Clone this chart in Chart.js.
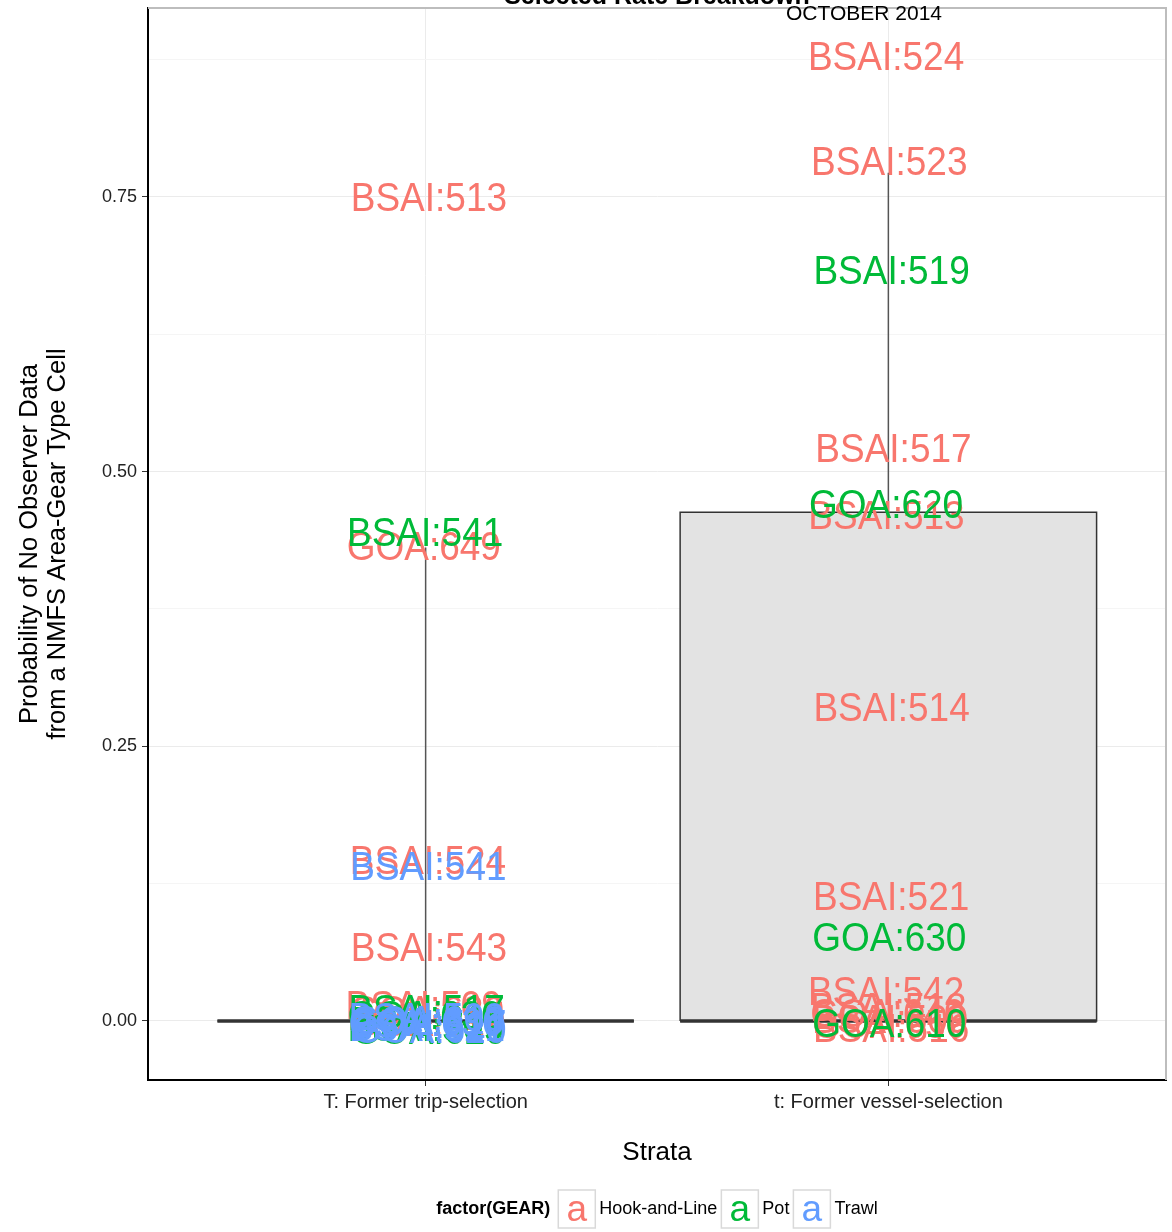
<!DOCTYPE html>
<html>
<head>
<meta charset="utf-8">
<title>Selected Rate Breakdown</title>
<script src="https://cdn.jsdelivr.net/npm/chart.js@4.4.1/dist/chart.umd.min.js"></script>
<style>
    body { margin: 0; background: #ffffff; }
    canvas { display: block; }
</style>
</head>
<body>
<canvas id="myChart" width="1172" height="1232"></canvas>
<script>

// =======================================
// DATA
// =======================================

const strata = ["T: Former trip-selection", "t: Former vessel-selection"];
const stratumPos = [1, 2];

// boxplot stats per stratum
const boxLow = [0, 0];
const boxMedian = [0, 0];
const boxHigh = [0, 0.463];
const whiskerLow = [0, 0];
const whiskerHigh = [0.431, 0.772];

const yTicks = [0, 0.25, 0.5, 0.75];
const yMinorTicks = [0.125, 0.375, 0.625, 0.875];

const gearNames = ["Hook-and-Line", "Pot", "Trawl"];
const gearColors = ["#F8766D", "#00BA38", "#619CFF"];

// Hook-and-Line labels
const hookLabels = [
    "BSAI:513", "GOA:649", "BSAI:524", "BSAI:543",
    "BSAI:509", "GOA:630", "BSAI:517", "GOA:610",
    "BSAI:524", "BSAI:523", "BSAI:517", "BSAI:513", "BSAI:514", "BSAI:521", "BSAI:542",
    "BSAI:518", "GOA:640", "BSAI:509", "GOA:650", "BSAI:516"
];
const hookX = [
    1.007, 0.996, 1.005, 1.007,
    0.996, 1.003, 1.000, 1.006,
    1.995, 2.002, 2.011, 1.996, 2.007, 2.006, 1.995,
    2.000, 1.998, 2.004, 2.002, 2.006
];
const hookY = [
    0.749, 0.431, 0.1456, 0.0664,
    0.0135, 0.009, 0.004, -0.002,
    0.877, 0.782, 0.5205, 0.4595, 0.2848, 0.1128, 0.0264,
    0.012, 0.006, 0.001, -0.004, -0.007
];

// Pot labels
const potLabels = [
    "BSAI:541", "BSAI:517", "GOA:630", "GOA:610", "BSAI:509", "GOA:620",
    "BSAI:519", "GOA:620", "GOA:630", "GOA:610"
];
const potX = [
    0.999, 1.002, 0.998, 1.004, 1.000, 1.006,
    2.007, 1.995, 2.002, 2.002
];
const potY = [
    0.444, 0.010, 0.005, 0.000, -0.006, -0.009,
    0.683, 0.470, 0.0755, -0.0027
];

// Trawl labels
const trawlLabels = [
    "BSAI:541", "BSAI:509", "GOA:610", "GOA:630", "BSAI:517", "BSAI:521", "GOA:620"
];
const trawlX = [
    1.006, 1.002, 1.005, 1.000, 1.006, 1.003, 1.008
];
const trawlY = [
    0.140, 0.003, 0.000, -0.002, -0.004, -0.006, -0.008
];

// =======================================
// STYLE
// =======================================

const FONT = '"Liberation Sans", Arial, Helvetica, sans-serif';
const BOX_HALF = 0.45;

Chart.defaults.font.family = FONT;

// =======================================
// DATASETS
// =======================================

function textSet(labels, xs, ys, color){
    return {
        data: xs.map((x, i) => ({x: x, y: ys[i]})),
        texts: labels,
        textColor: color,
        showLine: false,
        pointRadius: 0,
        pointHoverRadius: 0,
        order: 0
    };
}

function lineSet(points, width, color, order){
    return {
        data: points,
        borderColor: color,
        borderWidth: width,
        pointRadius: 0,
        pointHoverRadius: 0,
        fill: false,
        order: order
    };
}

let datasets = [
    textSet(hookLabels, hookX, hookY, gearColors[0]),
    textSet(potLabels, potX, potY, gearColors[1]),
    textSet(trawlLabels, trawlX, trawlY, gearColors[2])
];

stratumPos.forEach((pos, i) => {

    let x0 = pos - BOX_HALF;
    let x1 = pos + BOX_HALF;

    // box fill
    datasets.push({
        data: [{x: x0, y: boxHigh[i]}, {x: x1, y: boxHigh[i]}],
        borderWidth: 0,
        borderColor: 'rgba(0,0,0,0)',
        backgroundColor: '#E3E3E3',
        pointRadius: 0,
        fill: {value: boxLow[i]},
        order: 9
    });

    // box outline
    datasets.push(lineSet([
        {x: x0, y: boxLow[i]}, {x: x0, y: boxHigh[i]},
        {x: x1, y: boxHigh[i]}, {x: x1, y: boxLow[i]},
        {x: x0, y: boxLow[i]}
    ], 1.5, '#333333', 7));

    // whiskers
    datasets.push(lineSet([{x: pos, y: boxHigh[i]}, {x: pos, y: whiskerHigh[i]}], 1.5, '#555555', 6));
    datasets.push(lineSet([{x: pos, y: whiskerLow[i]}, {x: pos, y: boxLow[i]}], 1.5, '#555555', 6));

    // median
    datasets.push(lineSet([{x: x0, y: boxMedian[i]}, {x: x1, y: boxMedian[i]}], 3.5, '#333333', 5));
});

// =======================================
// PLUGINS
// =======================================

const textLabelPlugin = {
    id: 'textLabels',
    afterDatasetsDraw(chart){
        const ctx = chart.ctx;
        ctx.save();
        ctx.font = '37px ' + FONT;
        ctx.textAlign = 'center';
        ctx.textBaseline = 'middle';
        chart.data.datasets.forEach((ds, i) => {
            if(!ds.texts) return;
            ctx.fillStyle = ds.textColor;
            chart.getDatasetMeta(i).data.forEach((pt, j) => {
                // slightly taller glyphs, as in the original render
                ctx.save();
                ctx.translate(pt.x, pt.y + 2);
                ctx.scale(1, 1.08);
                ctx.fillText(ds.texts[j], 0, 0);
                ctx.restore();
            });
        });
        ctx.restore();
    }
};

const framePlugin = {
    id: 'frame',
    afterDraw(chart){
        const ctx = chart.ctx;
        const a = chart.chartArea;
        ctx.save();

        // panel border (top / right)
        ctx.strokeStyle = '#BDBDBD';
        ctx.lineWidth = 2;
        ctx.beginPath();
        ctx.moveTo(a.left, a.top);
        ctx.lineTo(a.right, a.top);
        ctx.lineTo(a.right, a.bottom);
        ctx.stroke();

        // title, cut at the top edge
        let cx = (a.left + a.right) / 2;
        ctx.fillStyle = '#000';
        ctx.textAlign = 'center';
        ctx.textBaseline = 'alphabetic';
        ctx.font = 'bold 25px ' + FONT;
        ctx.fillText('Selected Rate Breakdown', cx, 4);

        ctx.textBaseline = 'middle';
        ctx.font = '21px ' + FONT;
        ctx.fillText('OCTOBER 2014', 864, 14);

        // legend
        let ly = 1209;
        ctx.font = 'bold 18px ' + FONT;
        let parts = [ctx.measureText('factor(GEAR)').width + 8];
        ctx.font = '18px ' + FONT;
        gearNames.forEach(n => parts.push(37 + 4 + ctx.measureText(n).width + 4));
        let total = parts.reduce((s, w) => s + w, 0) - 4;
        let x = cx - total / 2;

        ctx.textAlign = 'left';
        ctx.font = 'bold 18px ' + FONT;
        ctx.fillText('factor(GEAR)', x, ly);
        x += parts[0];

        gearNames.forEach((n, i) => {
            ctx.fillStyle = '#ffffff';
            ctx.fillRect(x, ly - 19, 37, 38);
            ctx.strokeStyle = '#D9D9D9';
            ctx.lineWidth = 1.5;
            ctx.strokeRect(x, ly - 19, 37, 38);

            ctx.fillStyle = gearColors[i];
            ctx.textAlign = 'center';
            ctx.font = '37px ' + FONT;
            ctx.fillText('a', x + 18.5, ly + 2);

            ctx.fillStyle = '#000';
            ctx.textAlign = 'left';
            ctx.font = '18px ' + FONT;
            ctx.fillText(n, x + 41, ly);
            x += parts[i + 1];
        });

        ctx.restore();
    }
};

// =======================================
// CHART
// =======================================

const ctx = document.getElementById('myChart').getContext('2d');

const myChart = new Chart(ctx, {

    type: 'line',

    data: { datasets: datasets },

    options: {
        responsive: false,
        animation: false,
        events: [],
        layout: { padding: { top: 8, right: 6, bottom: 0, left: 0 } },

        plugins: {
            legend: { display: false },
            tooltip: { enabled: false }
        },

        scales: {

            x: {
                type: 'linear',
                min: 0.4,
                max: 2.6,
                afterBuildTicks: s => { s.ticks = stratumPos.map(v => ({value: v})); },
                afterFit: s => {
                    s.height = 152;
                    s.paddingLeft = 0;
                    s.paddingRight = 0;
                },
                ticks: {
                    callback: (v, i) => strata[i],
                    font: { size: 20 },
                    color: '#222222',
                    padding: 4,
                    maxRotation: 0,
                    autoSkip: false
                },
                grid: {
                    color: '#EBEBEB',
                    lineWidth: 1,
                    tickLength: 6,
                    tickColor: '#333333'
                },
                border: { color: '#000000', width: 2 },
                title: {
                    display: true,
                    text: 'Strata',
                    color: '#000000',
                    font: { size: 26 },
                    padding: { top: 0, bottom: 64 }
                }
            },

            y: {
                type: 'linear',
                min: -0.0537,
                max: 0.922,
                afterBuildTicks: s => {
                    s.ticks = yTicks.concat(yMinorTicks)
                        .sort((a, b) => a - b)
                        .map(v => ({value: v}));
                },
                afterFit: s => {
                    s.width = 148;
                    s.paddingTop = 0;
                    s.paddingBottom = 0;
                },
                ticks: {
                    callback: v => yTicks.includes(v) ? v.toFixed(2) : '',
                    font: { size: 18 },
                    color: '#222222',
                    padding: 5
                },
                grid: {
                    color: c => yTicks.includes(c.tick && c.tick.value) ? '#EBEBEB' : '#F5F5F5',
                    lineWidth: 1,
                    tickLength: 6,
                    tickColor: c => yTicks.includes(c.tick && c.tick.value) ? '#333333' : 'rgba(0,0,0,0)'
                },
                border: { color: '#000000', width: 2 },
                title: {
                    display: true,
                    text: ['Probability of No Observer Data', 'from a NMFS Area-Gear Type Cell'],
                    color: '#000000',
                    font: { size: 25.5, lineHeight: 28 / 25.5 },
                    padding: { top: 16, bottom: 0 }
                }
            }
        }
    },

    plugins: [textLabelPlugin, framePlugin]
});

</script>
</body>
</html>
